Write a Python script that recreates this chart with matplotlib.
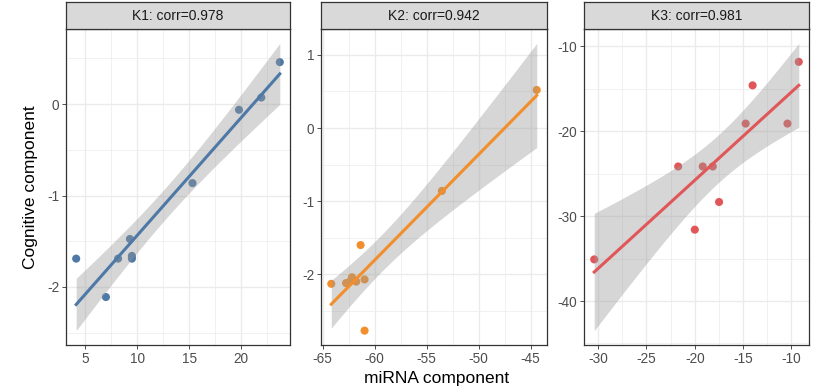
import numpy as np
import matplotlib
matplotlib.use("Agg")
import matplotlib.pyplot as plt

plt.rcParams["font.family"] = ["Liberation Sans", "DejaVu Sans"]

# dados
titles = ["K1: corr=0.978", "K2: corr=0.942", "K3: corr=0.981"]
colors = ["#4E79A7", "#F28E2B", "#E15759"]

k1_x = [4.14, 7.0, 8.17, 9.31, 9.5, 9.5, 15.33, 19.8, 21.95, 23.73]
k1_y = [-1.69, -2.11, -1.69, -1.475, -1.66, -1.69, -0.864, -0.062, 0.072, 0.459]

k2_x = [-64.17, -62.75, -62.18, -62.4, -61.77, -60.97, -61.35, -60.97, -53.54, -44.42]
k2_y = [-2.13, -2.12, -2.04, -2.10, -2.10, -2.07, -1.60, -2.77, -0.86, 0.52]

k3_x = [-30.41, -21.72, -19.18, -18.14, -20.0, -17.49, -14.74, -14.02, -10.41, -9.24]
k3_y = [-35.1, -24.16, -24.16, -24.16, -31.6, -28.34, -19.11, -14.61, -19.11, -11.84]

x_ticks = [[5, 10, 15, 20], [-65, -60, -55, -50, -45], [-30, -25, -20, -15, -10]]
y_ticks = [[-2, -1, 0], [-2, -1, 0, 1], [-40, -30, -20, -10]]

# quantil t 95% para df = n - 2 = 8
T_CRIT = 2.306

fig = plt.figure(figsize=(8.2, 3.91), dpi=100)
W, H = 820, 391
panels = [(66, 290), (321, 547), (584, 809)]
ax_top, ax_bot, strip_top = 29, 345, 2

dados = [(k1_x, k1_y), (k2_x, k2_y), (k3_x, k3_y)]

for i, (x, y) in enumerate(dados):
    x = np.array(x)
    y = np.array(y)
    l, r = panels[i]
    ax = fig.add_axes([l / W, 1 - ax_bot / H, (r - l) / W, (ax_bot - ax_top) / H])

    # regressao linear com intervalo de confianca
    n = len(x)
    b, a = np.polyfit(x, y, 1)
    xs = np.linspace(x.min(), x.max(), 80)
    ys = a + b * xs
    resid = y - (a + b * x)
    s = np.sqrt(np.sum(resid ** 2) / (n - 2))
    se = s * np.sqrt(1 / n + (xs - x.mean()) ** 2 / np.sum((x - x.mean()) ** 2))
    lo, hi = ys - T_CRIT * se, ys + T_CRIT * se

    ax.scatter(x, y, s=34, color=colors[i], edgecolors="none", zorder=3)
    ax.fill_between(xs, lo, hi, color="#999999", alpha=0.4, linewidth=0, zorder=4)
    ax.plot(xs, ys, color=colors[i], linewidth=2.2, zorder=5)

    xr = x.max() - x.min()
    ax.set_xlim(x.min() - 0.05 * xr, x.max() + 0.05 * xr)
    ymin = min(y.min(), lo.min())
    ymax = max(y.max(), hi.max())
    yr = ymax - ymin
    ax.set_ylim(ymin - 0.05 * yr, ymax + 0.05 * yr)

    xt = np.array(x_ticks[i], dtype=float)
    yt = np.array(y_ticks[i], dtype=float)
    ax.set_xticks(xt)
    ax.set_yticks(yt)
    # linhas minor (inclusive nas pontas)
    xlo, xhi = ax.get_xlim()
    ylo, yhi = ax.get_ylim()
    dx = (xt[1] - xt[0]) / 2
    dy = (yt[1] - yt[0]) / 2
    xm = [v for v in [xt[0] - dx, xt[-1] + dx] if xlo < v < xhi]
    ym = [v for v in [yt[0] - dy, yt[-1] + dy] if ylo < v < yhi]
    ax.set_xticks(list((xt[:-1] + xt[1:]) / 2) + xm, minor=True)
    ax.set_yticks(list((yt[:-1] + yt[1:]) / 2) + ym, minor=True)
    ax.set_xticklabels([f"{int(v)}" for v in xt])
    ax.set_yticklabels([f"{int(v)}" for v in yt])

    ax.grid(which="major", color="#EBEBEB", linewidth=1.0, zorder=0)
    ax.grid(which="minor", color="#EBEBEB", linewidth=0.5, zorder=0)
    ax.set_axisbelow(True)
    ax.tick_params(which="major", length=3, color="#333333", labelcolor="#4D4D4D",
                   labelsize=9.8, width=0.6, pad=2)
    ax.tick_params(which="minor", length=0)
    for sp in ax.spines.values():
        sp.set_color("#333333")
        sp.set_linewidth(0.9)

    # faixa do titulo
    sax = fig.add_axes([l / W, 1 - ax_top / H, (r - l) / W, (ax_top - strip_top) / H])
    sax.set_facecolor("#D9D9D9")
    sax.set_xticks([])
    sax.set_yticks([])
    for sp in sax.spines.values():
        sp.set_color("#333333")
        sp.set_linewidth(0.9)
    sax.text(0.5, 0.5, titles[i], ha="center", va="center", fontsize=10,
             color="#1A1A1A", transform=sax.transAxes)

fig.text(31 / W, 1 - 187 / H, "Cognitive component", rotation=90, ha="center",
         va="center", fontsize=12.5)
fig.text(437 / W, 1 - 378 / H, "miRNA component", ha="center", va="center",
         fontsize=12.5)

fig.savefig("out.png", dpi=100, facecolor="white")
